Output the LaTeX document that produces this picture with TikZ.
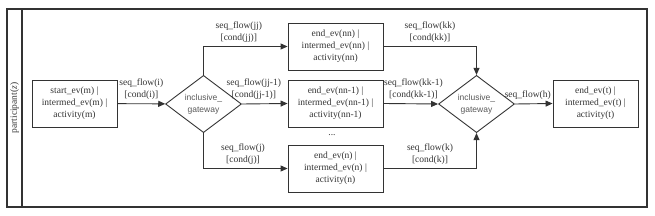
\documentclass[tikz,border=0pt]{standalone}
\usepackage{fontspec}
\setmainfont{Liberation Serif}
\newfontfamily\gwfont{Liberation Sans}
\usepackage{tikz}
\usetikzlibrary{arrows.meta,shapes.geometric}

\begin{document}
\begin{tikzpicture}[x=1pt, y=-1pt,
    every node/.style={font=\fontsize{9.5}{12}\selectfont, text=black!80},
    task/.style={rectangle, draw=black!80, line width=0.9pt, align=center,
                 minimum width=95pt, minimum height=47pt, inner sep=1pt},
    gate/.style={diamond, draw=black!80, line width=0.9pt, align=center,
                 minimum width=76pt, minimum height=46pt, inner sep=0pt,
                 font=\gwfont\fontsize{8.5}{12}\selectfont, text=black!65},
    flow/.style={draw=black!80, line width=0.9pt, -{Triangle[length=7pt,width=6pt]}},
    flowlbl/.style={align=center, inner sep=4pt}]
  \useasboundingbox (0,0) rectangle (655,216);
  % pool and lane
  \draw[black!80, line width=1.1pt] (7,9) rectangle (647,207);
  \draw[black!80, line width=1.1pt] (22,9) -- (22,207);
  \node[rotate=90] (lane) at (14.5,108) {participant(\textit{z})};
  % tasks and gateways
  \node[task, minimum width=85pt] (m)   at (74.5,103.5) {start\_ev(m) |\\intermed\_ev(m) |\\activity(m)};
  \node[gate]                     (gwa) at (203.5,104)  {inclusive\_\\gateway};
  \node[task] (nn)  at (335.5,46.5)  {end\_ev(nn) |\\intermed\_ev(nn) |\\activity(nn)};
  \node[task] (nnm) at (335.5,103.5) {end\_ev(nn-1) |\\intermed\_ev(nn-1) |\\activity(nn-1)};
  \node[task] (n)   at (335.5,168.5) {end\_ev(n) |\\intermed\_ev(n) |\\activity(n)};
  \node (dots) at (332,135) {...};
  \node[gate]                     (gwb) at (476.5,104)  {inclusive\_\\gateway};
  \node[task, minimum width=85pt] (t)   at (595.5,103.5) {end\_ev(t) |\\intermed\_ev(t) |\\activity(t)};
  % sequence flows
  \draw[flow] (m) -- (gwa)
    node[flowlbl, pos=0.5, above] {seq\_flow(i)\\{}[cond(i)]};
  \draw[flow] (gwa.north) |- (nn.west)
    node[flowlbl, pos=0.71, above] {seq\_flow(jj)\\{}[cond(jj)]};
  \draw[flow] (gwa.east) -- (nnm.west)
    node[flowlbl, pos=0.26, above] {seq\_flow(jj-1)\\{}[cond(jj-1)]};
  \draw[flow] (gwa.south) |- (n.west)
    node[flowlbl, pos=0.735, above] {seq\_flow(j)\\{}[cond(j)]};
  \draw[flow] (nn.east) -| (gwb.north)
    node[flowlbl, pos=0.25, above] {seq\_flow(kk)\\{}[cond(kk)]};
  \draw[flow] (nnm.east) -- (gwb.west)
    node[flowlbl, pos=0.55, above] {seq\_flow(kk-1)\\{}[cond(kk-1)]};
  \draw[flow] (n.east) -| (gwb.south)
    node[flowlbl, pos=0.25, above] {seq\_flow(k)\\{}[cond(k)]};
  \draw[flow] (gwb.east) -- (t.west)
    node[flowlbl, pos=0.34, above] {seq\_flow(h)};
\end{tikzpicture}
\end{document}
